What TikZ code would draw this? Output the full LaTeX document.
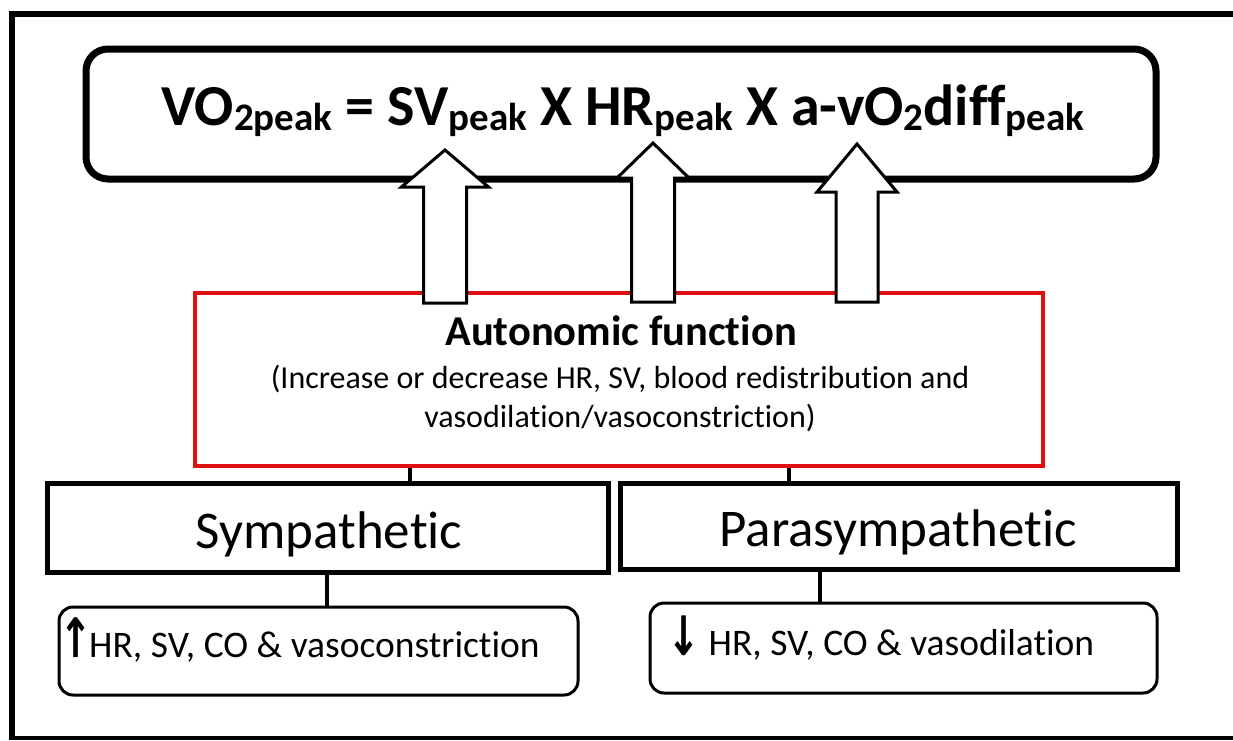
\documentclass[tikz,border=0pt]{standalone}
\usepackage{fontspec}
\setmainfont{Carlito}[Ligatures=CommonOff]
\newfontfamily\arrowfont{DejaVu Sans}
\usetikzlibrary{positioning}
\definecolor{boxred}{RGB}{222,18,18}
\newcommand{\lowsub}[1]{\raisebox{-5pt}{\fontsize{39}{39}\selectfont #1}}
\newcommand{\tallarrow}[1]{{\arrowfont\bfseries\scalebox{1.05}[1.45]{#1}}}

\begin{document}
\begin{tikzpicture}
		[x=1pt,y=-1pt,
		outerline/.style={fill=black},
		mainbox/.style={draw,rounded corners=22pt,line width=7pt,inner sep=0pt},
		redbox/.style={draw=boxred,line width=4pt,inner sep=0pt},
		branch/.style={draw,line width=5pt,inner sep=0pt},
		effect/.style={draw,rounded corners=14pt,line width=3pt,inner sep=0pt},
		upblock/.style={draw,fill=white,line width=3pt,line join=miter},
		link/.style={line width=4pt},
		textstyle/.style={inner sep=0pt}]
		\fill[white] (0,0) rectangle (1233,740);
		% outer frame, open on the right
		\fill[outerline] (8.5,11) rectangle (1233,17);
		\fill[outerline] (8.5,11) rectangle (14.5,740);
		\fill[outerline] (8.5,736) rectangle (1233,740);
		% boxes
		\node at (621,114) (eqbox) [mainbox,minimum width=1070pt,minimum height=130pt] {};
		\node at (619,379.5) (auto) [redbox,minimum width=848pt,minimum height=173pt] {};
		\node at (327.5,528) (symp) [branch,minimum width=561pt,minimum height=89pt] {};
		\node at (898.5,526) (para) [branch,minimum width=557pt,minimum height=86pt] {};
		\node at (318.5,651) (up) [effect,minimum width=519pt,minimum height=88pt] {};
		\node at (903.5,648) (down) [effect,minimum width=507pt,minimum height=90pt] {};
		% texts
		\node at (623,125) (eq) [textstyle,anchor=base] {\fontsize{58}{70}\selectfont\bfseries
			VO\lowsub{2peak} = SV\lowsub{peak} X HR\lowsub{peak} X a-vO\lowsub{2}diff\lowsub{peak}};
		\node at (621,345) (autotitle) [textstyle,anchor=base] {\fontsize{42.5}{48}\selectfont\bfseries Autonomic function};
		\node at (620,427) (autotext) [textstyle,anchor=base,align=center,font=\fontsize{32}{39}\selectfont]
			{(Increase or decrease HR, SV, blood redistribution and\\vasodilation/vasoconstriction)};
		\node at (329,548) (symptext) [textstyle,anchor=base] {\fontsize{53}{60}\selectfont Sympathetic};
		\node at (898,546) (paratext) [textstyle,anchor=base] {\fontsize{53}{60}\selectfont Parasympathetic};
		\node at (59,657) (uptext) [textstyle,anchor=base west] {\fontsize{37.5}{44}\selectfont\tallarrow{↑}\kern-3pt HR, SV, CO \& vasoconstriction};
		\node at (667,655) (downtext) [textstyle,anchor=base west] {\fontsize{37.5}{44}\selectfont\tallarrow{↓} HR, SV, CO \& vasodilation};
		% connectors
		\coordinate (sjoin) at (410,0);
		\coordinate (pjoin) at (789,0);
		\coordinate (ujoin) at (327,0);
		\coordinate (djoin) at (820,0);
		\draw[link] (auto.south -| sjoin) -- (symp.north -| sjoin);
		\draw[link] (auto.south -| pjoin) -- (para.north -| pjoin);
		\draw[link] (symp.south -| ujoin) -- (up.north -| ujoin);
		\draw[link] (para.south -| djoin) -- (down.north -| djoin);
		% block arrows up to the equation
		\foreach \cx/\bot/\base/\tip/\shaft/\head in
			{445/303/187/150/21.5/43.5, 653/302/178/143/21.5/36, 857/302/192/144/21/40}
			\draw[upblock] (\cx-\shaft,\bot) -- (\cx-\shaft,\base) -- (\cx-\head,\base) -- (\cx,\tip)
				-- (\cx+\head,\base) -- (\cx+\shaft,\base) -- (\cx+\shaft,\bot) -- cycle;
	\end{tikzpicture}
\end{document}
